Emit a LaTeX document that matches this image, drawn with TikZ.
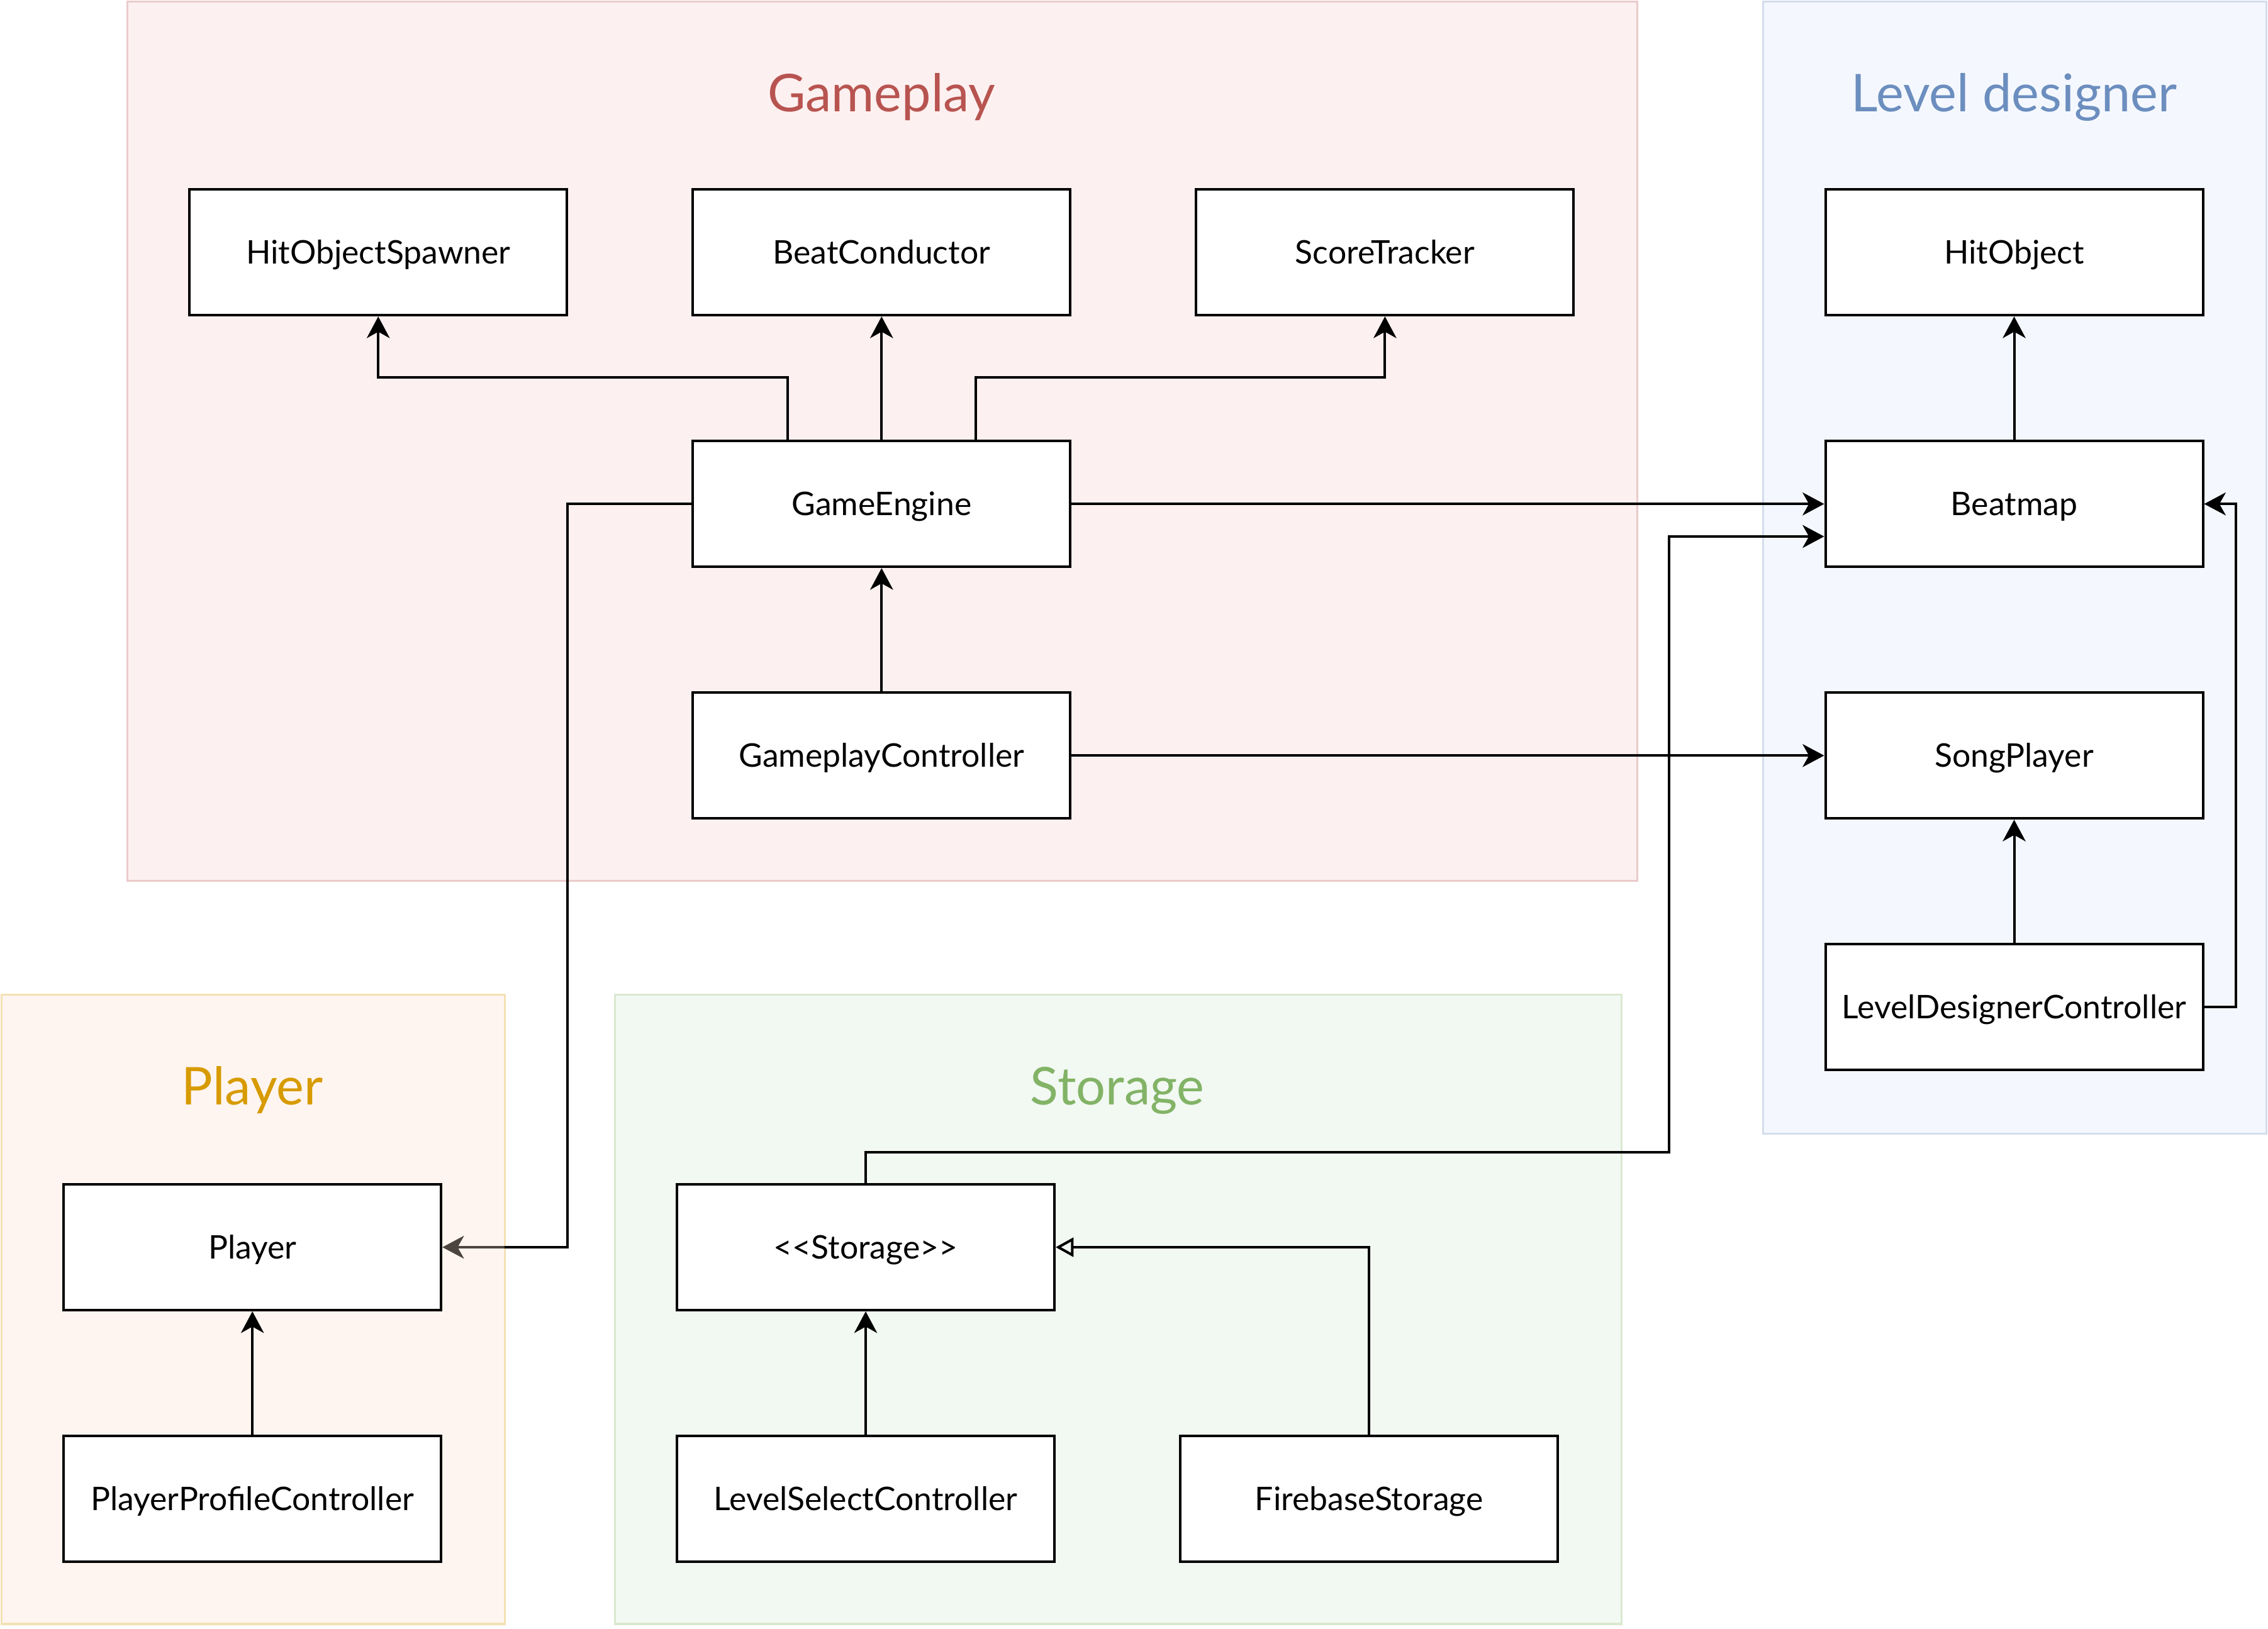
\documentclass[tikz,border=0pt]{standalone}
\usepackage{fontspec}
\setmainfont{Lato}
\usetikzlibrary{arrows.meta,calc}
\definecolor{gpfill}{HTML}{FDF0F0}
\definecolor{gpline}{HTML}{EACBCA}
\definecolor{gptext}{HTML}{B85450}
\definecolor{ldfill}{HTML}{F4F8FE}
\definecolor{ldline}{HTML}{D3DDEC}
\definecolor{ldtext}{HTML}{6C8EBF}
\definecolor{plfill}{HTML}{FFF5F0}
\definecolor{plline}{HTML}{F3E1B3}
\definecolor{pltext}{HTML}{D79B00}
\definecolor{stfill}{HTML}{F2F8F2}
\definecolor{stline}{HTML}{DAE8D1}
\definecolor{sttext}{HTML}{82B366}
\definecolor{pldark}{HTML}{4C453D}
\begin{document}
\begin{tikzpicture}[x=0.02cm,y=-0.02cm,
    box/.style={draw,line width=1pt,fill=white,minimum width=5.22cm,
      minimum height=1.74cm,inner sep=0pt,text height=9.2pt,text depth=0pt,
      font=\fontsize{12.8}{15}\selectfont},
    grouptitle/.style={inner sep=0pt,text height=14.8pt,text depth=0pt,
      font=\fontsize{20.5}{24}\selectfont},
    >={Stealth[length=8.5pt,width=9pt,inset=2.5pt]}]
      \useasboundingbox (0,0) rectangle (1568,1126.5);
      \draw[line width=0.8pt,draw=gpline,fill=gpfill] (88,1) rectangle (1132,609);
      \draw[line width=0.8pt,draw=ldline,fill=ldfill] (1219,1) rectangle (1567,784);
      \draw[line width=0.8pt,draw=plline,fill=plfill] (1,688) rectangle (349,1123);
      \draw[line width=0.8pt,draw=stline,fill=stfill] (425,688) rectangle (1121,1123);
      \node[grouptitle,text=gptext] (gameplaytitle) at (609.5,64) {Gameplay};
      \node[grouptitle,text=ldtext] (designertitle) at (1392.5,64) {Level designer};
      \node[grouptitle,text=pltext] (playertitle) at (174.5,751) {Player};
      \node[grouptitle,text=sttext] (storagetitle) at (772.5,751) {Storage};
      \node[box] (spawner) at (261.5,174.5) {HitObjectSpawner};
      \node[box] (conductor) at (609.5,174.5) {BeatConductor};
      \node[box] (tracker) at (957.5,174.5) {ScoreTracker};
      \node[box] (hitobject) at (1392.5,174.5) {HitObject};
      \node[box] (engine) at (609.5,348.5) {GameEngine};
      \node[box] (beatmap) at (1392.5,348.5) {Beatmap};
      \node[box] (gpcontroller) at (609.5,522.5) {GameplayController};
      \node[box] (songplayer) at (1392.5,522.5) {SongPlayer};
      \node[box] (ldcontroller) at (1392.5,696.5) {LevelDesignerController};
      \node[box] (player) at (174.5,862.5) {Player};
      \node[box] (storage) at (598.5,862.5) {<{}<Storage>{}>};
      \node[box] (ppcontroller) at (174.5,1036.5) {PlayerProfileController};
      \node[box] (lscontroller) at (598.5,1036.5) {LevelSelectController};
      \node[box] (firebase) at (946.5,1036.5) {FirebaseStorage};
      \coordinate (pturn) at (392.5,0);
      \coordinate (pedge) at (349,862.5);
      \coordinate (sturn) at (1154,797);
      \begin{scope}[line width=1pt]
        \draw[->] ($(engine.north)+(-65,0)$) -- ++(0,-43) -| (spawner.south);
        \draw[->] (engine) to (conductor);
        \draw[->] ($(engine.north)+(65,0)$) -- ++(0,-43) -| (tracker.south);
        \draw[->] (engine) to (beatmap);
        \draw (engine.west) -| (pturn |- player.east) -- (pedge);
        \draw[->,draw=pldark,fill=pldark] (pedge) -- (player.east);
        \draw[->] (gpcontroller) to (engine);
        \draw[->] (gpcontroller) to (songplayer);
        \draw[->] (beatmap) to (hitobject);
        \draw[->] (ldcontroller) to (songplayer);
        \draw[->] (ldcontroller.east) -- ++(22,0) |- (beatmap.east);
        \draw[->] (storage.north) |- (sturn) |- ($(beatmap.west)+(0,22.5)$);
        \draw[->] (lscontroller) to (storage);
        \draw[-{Triangle[open,length=7pt,width=7.5pt]}] (firebase.north) |- (storage.east);
        \draw[->] (ppcontroller) to (player);
      \end{scope}
    \end{tikzpicture}
\end{document}
